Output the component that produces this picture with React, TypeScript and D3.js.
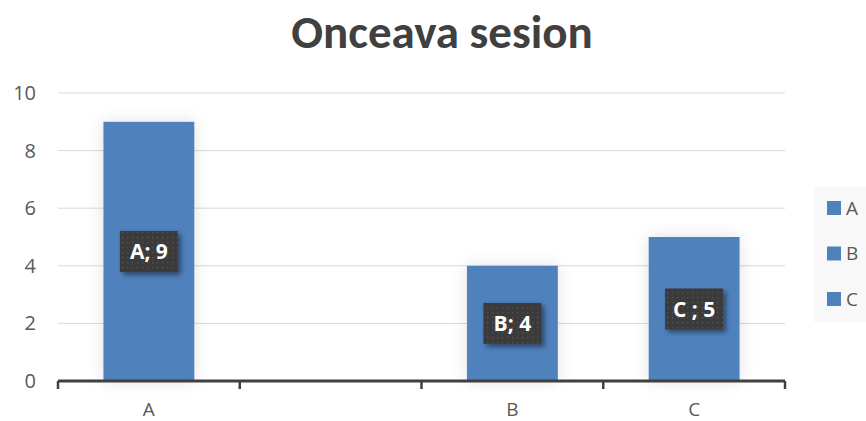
import React from "react";
import * as d3 from "d3";

const categories: string[] = ["A", "", "B", "C"];
const values: (number | null)[] = [9, null, 4, 5];
const dataLabels: string[] = ["A; 9", "", "B; 4", "C ; 5"];
const yTicks: number[] = [0, 2, 4, 6, 8, 10];
const legendItems: string[] = ["A", "B", "C"];
const title = "Onceava sesion";

const W = 866;
const H = 421;
const TITLE_FONT = "Carlito, Calibri, 'Open Sans', 'Noto Sans', sans-serif";
const FONT = "'Open Sans', 'Noto Sans', sans-serif";

export default function App() {
  const margin = { left: 58, right: 81, top: 93, bottom: 40 };
  const x = d3
    .scaleBand<number>()
    .domain(categories.map((_, i) => i))
    .range([margin.left, W - margin.right])
    .paddingInner(0.5)
    .paddingOuter(0.25);
  const y = d3.scaleLinear().domain([0, 10]).range([H - margin.bottom, margin.top]);
  const bandStep = x.step();
  const bounds = d3.range(categories.length + 1).map((i) => margin.left + i * bandStep);
  const bw = x.bandwidth();

  return (
    <svg
      width={W}
      height={H}
      style={{ position: "absolute", left: 0, top: 0, background: "#fff" }}
      fontFamily={FONT}
    >
      <defs>
        <pattern id="dots" width="5" height="5" patternUnits="userSpaceOnUse">
          <rect width="5" height="5" fill="#3a3a3a" />
          <rect x="2" y="2" width="1.3" height="1.3" fill="#555" />
        </pattern>
        <filter id="shadow" x="-30%" y="-30%" width="160%" height="160%">
          <feDropShadow dx="3" dy="3" stdDeviation="2.5" floodColor="#000" floodOpacity="0.45" />
        </filter>
        <filter id="barShadow" x="-40%" y="-10%" width="180%" height="120%">
          <feDropShadow dx="0" dy="0" stdDeviation="8" floodColor="#000" floodOpacity="0.12" />
        </filter>
      </defs>

      <text
        x={442}
        y={48}
        textAnchor="middle"
        fontSize={47}
        fontWeight="bold"
        fill="#404040"
        fontFamily={TITLE_FONT}
      >
        {title}
      </text>

      {yTicks.map((t) => (
        <g key={t}>
          {t > 0 && (
            <line
              x1={margin.left}
              x2={W - margin.right}
              y1={y(t)}
              y2={y(t)}
              stroke="#d9d9d9"
              strokeWidth={1}
            />
          )}
          <text
            x={36}
            y={y(t)}
            dy="0.35em"
            textAnchor="end"
            fontSize={20}
            fill="#595959"
          >
            {t}
          </text>
        </g>
      ))}

      {values.map((v, i) =>
        v == null ? null : (
          <rect
            key={i}
            x={x(i)}
            y={y(v)}
            width={bw}
            height={y(0) - y(v)}
            fill="#4f81bd"
            filter="url(#barShadow)"
          />
        )
      )}

      <line
        x1={margin.left}
        x2={W - margin.right}
        y1={y(0)}
        y2={y(0)}
        stroke="#404040"
        strokeWidth={3}
      />
      {bounds.map((b, i) => (
        <line key={i} x1={b} x2={b} y1={y(0)} y2={y(0) + 8} stroke="#404040" strokeWidth={2.5} />
      ))}

      {categories.map((c, i) => (
        <text
          key={i}
          x={(x(i) as number) + bw / 2}
          y={416}
          textAnchor="middle"
          fontSize={19}
          fill="#595959"
        >
          {c}
        </text>
      ))}

      {values.map((v, i) => {
        if (v == null) return null;
        const cx = (x(i) as number) + bw / 2;
        const cy = y(v / 2);
        const bwid = 58;
        const bh = 41;
        return (
          <g key={i}>
            <rect
              x={cx - bwid / 2}
              y={cy - bh / 2}
              width={bwid}
              height={bh}
              fill="url(#dots)"
              filter="url(#shadow)"
            />
            <text
              x={cx}
              y={cy}
              dy="0.36em"
              textAnchor="middle"
              fontSize={21}
              fontWeight="bold"
              fill="#fff"
            >
              {dataLabels[i]}
            </text>
          </g>
        );
      })}

      <rect x={814} y={186} width={52} height={136} fill="#f8f8f8" />
      {legendItems.map((l, i) => {
        const ly = 208 + i * 45.5;
        return (
          <g key={l}>
            <rect x={827} y={ly - 7} width={14} height={14} fill="#4f81bd" />
            <text x={846} y={ly} dy="0.36em" fontSize={19} fill="#595959">
              {l}
            </text>
          </g>
        );
      })}
    </svg>
  );
}
